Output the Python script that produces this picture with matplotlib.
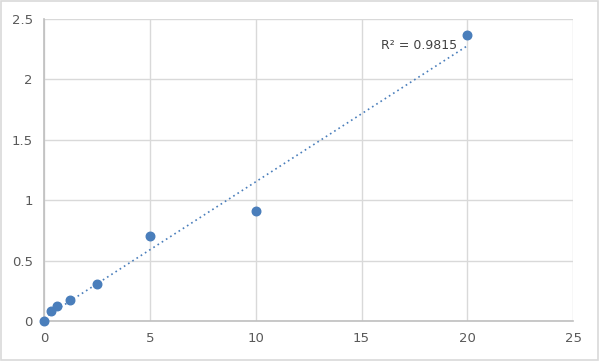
import numpy as np
import matplotlib
matplotlib.use("Agg")
import matplotlib.pyplot as plt

# === data ===
conc = [0, 0.3125, 0.625, 1.25, 2.5, 5, 10, 20]
od = [0.0, 0.085, 0.125, 0.175, 0.31, 0.70, 0.91, 2.37]
r2_label = "R² = 0.9815"

fig = plt.figure(figsize=(6, 3.61), dpi=100)
ax = fig.add_axes([0.0733, 0.111, 0.882, 0.836])

# linear trendline over data range
coef = np.polyfit(conc, od, 1)
xs = np.linspace(0, 20, 200)
ax.plot(xs, np.polyval(coef, xs), linestyle=(0, (1, 2)), color="#4a7ebb", linewidth=1.2, zorder=2)

ax.scatter(conc, od, s=38, color="#4a7ebb", zorder=3, clip_on=False)

ax.set_xlim(0, 25)
ax.set_ylim(0, 2.5)
ax.set_xticks([0, 5, 10, 15, 20, 25])
ax.set_yticks([0, 0.5, 1, 1.5, 2, 2.5])
ax.set_yticklabels(["0", "0.5", "1", "1.5", "2", "2.5"])
ax.grid(True, color="#d9d9d9", linewidth=1)
ax.set_axisbelow(True)
for s in ["top", "right"]:
    ax.spines[s].set_visible(False)
for s in ["left", "bottom"]:
    ax.spines[s].set_color("#bfbfbf")
    ax.spines[s].set_linewidth(1.2)
ax.tick_params(length=0, labelsize=9.5, colors="#595959", pad=8)

ax.text(15.9, 2.25, r2_label, fontsize=9, color="#404040")

# outer border
fig.patches.append(plt.Rectangle((0.002, 0.003), 0.995, 0.993, transform=fig.transFigure,
                                 fill=False, edgecolor="#d9d9d9", linewidth=1.2))

fig.savefig("out.png", dpi=100)
